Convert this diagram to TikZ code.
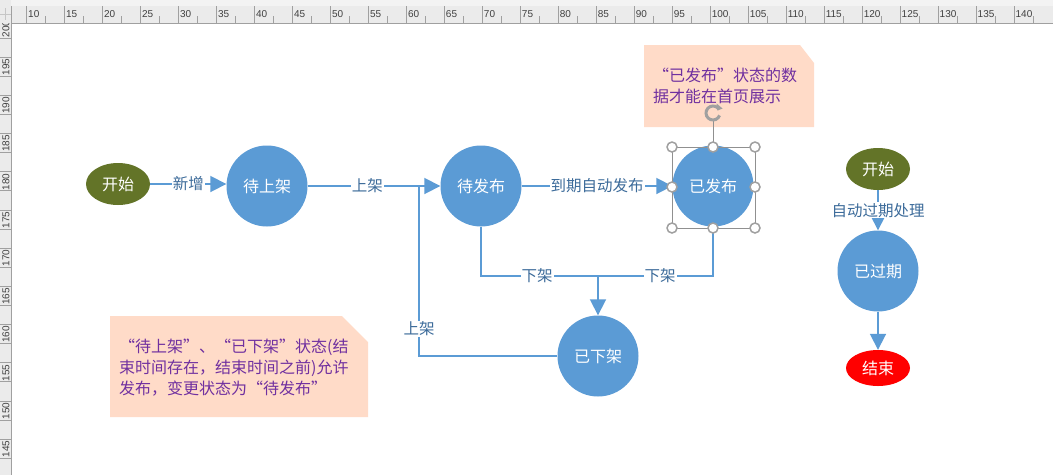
\documentclass[tikz,border=0pt]{standalone}
\usepackage{fontspec}
\usetikzlibrary{shapes.geometric,arrows.meta,calc}
\newfontfamily\cjk{Noto Sans CJK SC}
\newfontfamily\rulerfont{Liberation Sans}
\definecolor{cblue}{HTML}{5B9BD5}
\definecolor{olive}{HTML}{637428}
\definecolor{lblcol}{HTML}{3C6B9A}
\definecolor{notefill}{HTML}{FFDBC8}
\definecolor{notetext}{HTML}{7030A0}
\definecolor{rulerbg}{HTML}{EBEBEB}
\definecolor{rulertop}{HTML}{F3F3F3}
\definecolor{rulerline}{HTML}{A0A0A0}
\definecolor{handlecol}{HTML}{A0A0A0}
\tikzset{
  state/.style={circle, fill=cblue, minimum size=81pt, inner sep=0pt, text=white, font=\cjk\fontsize{16}{16}\selectfont},
  startnode/.style={ellipse, fill=olive, minimum width=64pt, minimum height=42pt, inner sep=0pt, text=white, font=\cjk\fontsize{16}{16}\selectfont},
  endnode/.style={ellipse, fill=red, minimum width=64pt, minimum height=36pt, inner sep=0pt, text=white, font=\cjk\fontsize{16}{16}\selectfont},
  conn/.style={draw=cblue, line width=1.8pt},
  arr/.style={conn, -{Triangle[length=16pt,width=16pt]}},
  lbl/.style={fill=white, text=lblcol, inner sep=1pt, font=\cjk\fontsize{15.5}{15.5}\selectfont},
  notebg/.style={fill=notefill},
  notetxt/.style={text=notetext, align=left, inner sep=0pt, font=\cjk\fontsize{16}{21}\selectfont},
  tick/.style={draw=rulerline, line width=0.8pt},
  rlabel/.style={text=black!75, inner sep=0pt, font=\rulerfont\fontsize{10}{10}\selectfont},
  handle/.style={circle, fill=white, draw=handlecol, line width=1.5pt, minimum size=10pt, inner sep=0pt},
}
\begin{document}
\begin{tikzpicture}[x=1pt,y=-1pt]
\useasboundingbox (0,0) rectangle (1053,475);
\fill[white] (0,0) rectangle (1053,475);
% ---- horizontal ruler
\fill[rulerbg] (0,0) rectangle (1053,23);
\fill[rulertop] (0,0) rectangle (1053,6);
\foreach \k in {0,...,26} {
  \pgfmathsetmacro\xx{26.5+37.98*\k}
  \pgfmathtruncatemacro\val{10+5*\k}
  \draw[tick] (\xx,6) -- (\xx,23);
  \draw[tick] (\xx+18.99,16) -- (\xx+18.99,23);
  \node[rlabel, anchor=west] (rl\k) at (\xx+1.5,14.5) {\val};
}
\draw[tick] (0,23) -- (1053,23);
% ---- vertical ruler
\fill[rulerbg] (0,23) rectangle (11,475);
\fill[rulerbg] (0,0) rectangle (11,23);
\draw[tick] (11,6) -- (11,475);
\draw[draw=rulerline!60, line width=0.8pt] (5.5,8) -- (5.5,20) (0,14) -- (11,14);
\begin{scope}
  \clip (0,23) rectangle (11,475);
  \foreach \k in {0,...,22} {
    \draw[tick] (0,38+19.1*\k) -- (11,38+19.1*\k);
  }
  \foreach \k in {0,...,11} {
    \pgfmathtruncatemacro\val{200-5*\k}
    \node[rlabel, rotate=90] (vl\k) at (6,29+38.2*\k) {\val};
  }
\end{scope}
% ---- notes
\fill[notebg] (644,45) -- (800,45) -- (814,63) -- (814,127) -- (644,127) -- cycle;
\node[notetxt, anchor=west] (note1) at (653,86) {“已发布”状态的数\\据才能在首页展示};
\fill[notebg] (110,316) -- (342,316) -- (368,342) -- (368,417) -- (110,417) -- cycle;
\node[notetxt, anchor=west] (note2) at (119,367.5) {“待上架”、“已下架”状态(结\\束时间存在，结束时间之前)允许\\发布，变更状态为“待发布”};
% ---- nodes
\node[startnode] (s1) at (118,184) {开始};
\node[state] (n1) at (267,186) {待上架};
\node[state] (n2) at (481,186) {待发布};
\node[state] (n3) at (713,186) {已发布};
\node[state] (n4) at (598,356) {已下架};
\node[startnode] (s2) at (878,169) {开始};
\node[state] (n5) at (878,271) {已过期};
\node[endnode] (e1) at (878,368) {结束};
\coordinate (j) at (419,186);
\coordinate (m) at (598,276);
% ---- connectors
\draw[arr] (s1.east) -- node[lbl, pos=0.5] {新增} (s1.east -| n1.west);
\draw[arr] (n1.east) -- node[lbl, pos=0.45] {上架} (n2.west);
\draw[conn] (n4.west) -| node[lbl, pos=0.58] {上架} (j);
\draw[arr] (n2.east) -- node[lbl, pos=0.5] {到期自动发布} (n3.west);
\draw[conn] (n2.south) |- node[lbl, pos=0.74] {下架} (m);
\draw[conn] (n3.south) |- node[lbl, pos=0.73] {下架} (m);
\draw[arr] (m) -- (n4.north);
\draw[arr] (s2.south) -- node[lbl, pos=0.5] {自动过期处理} (n5.north);
\draw[arr] (n5.south) -- (e1.north);
% ---- selection handles on 已发布
\draw[draw=handlecol!90!black, line width=0.8pt] (672,147) rectangle (755,228);
\draw[draw=handlecol!90!black, line width=0.8pt] (713,147) -- (713,121);
\draw[draw=handlecol, line width=3pt] (713,113) ++(20:7) arc[start angle=20, end angle=330, radius=7];
\fill[handlecol] (713,113) ++(330:7) ++(3.5,-1) -- ++(-6,-5) -- ++(1,7) -- cycle;
\foreach \p [count=\i] in {(672,147),(713,147),(755,147),(672,187),(755,187),(672,228),(713,228),(755,228)} {
  \node[handle] (h\i) at \p {};
}
\end{tikzpicture}
\end{document}
